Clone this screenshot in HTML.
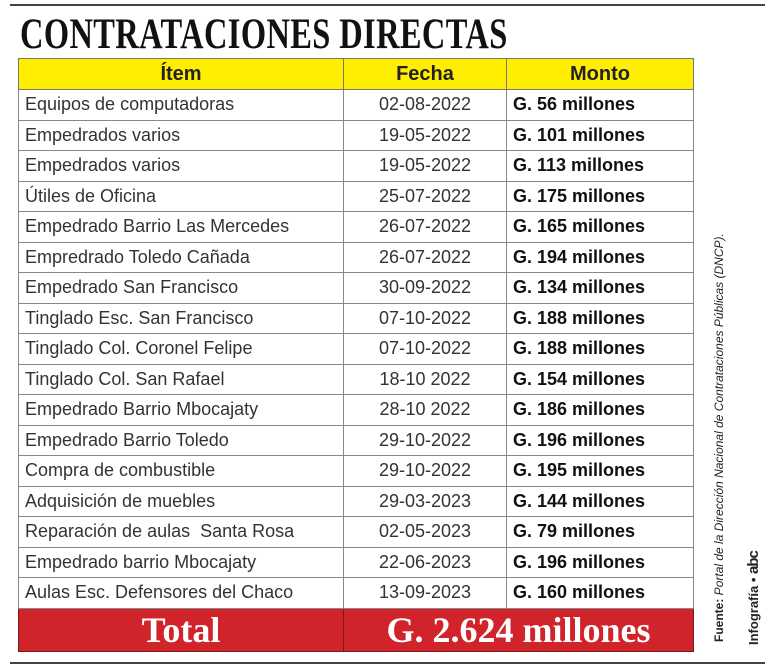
<!DOCTYPE html>
<html><head><meta charset="utf-8"><style>
body{margin:0;width:770px;height:672px;background:#fff;position:relative;overflow:hidden;font-family:"Liberation Sans",sans-serif}
.line{position:absolute;left:10px;width:755px;height:2px;background:#444}
.title{position:absolute;left:20px;top:10px;font-family:"Liberation Serif",serif;font-weight:bold;font-size:43px;color:#111;transform:scaleX(0.755);transform-origin:left top;white-space:nowrap;letter-spacing:0.5px}
table{position:absolute;left:18px;top:58px;border-collapse:collapse;table-layout:fixed}
td{border:1.5px solid #888;height:29.5px;padding:0;font-size:18px;color:#333;white-space:nowrap;overflow:hidden}
tr.h td{background:#ffee00;color:#222;font-weight:bold;text-align:center;height:30px;font-size:20px;border-color:#777}
td.a{padding-left:6px}
td.b{text-align:center}
td.c{padding-left:6px;font-weight:bold;color:#111}
tr.t td{background:#d1232a;color:#fff;font-family:"Liberation Serif",serif;font-weight:bold;font-size:36px;text-align:center;height:40px;border-color:#7a1a1a}
.src{position:absolute;left:712px;top:642px;transform:rotate(-90deg);transform-origin:left top;font-size:12px;color:#222;white-space:nowrap}
.inf{position:absolute;left:745px;top:645px;transform:rotate(-90deg);transform-origin:left top;font-size:13px;font-weight:bold;color:#222;white-space:nowrap}
</style></head><body>
<div class="line" style="top:4px"></div>
<div class="title">CONTRATACIONES DIRECTAS</div>
<table>
<colgroup><col style="width:325px"><col style="width:163px"><col style="width:187px"></colgroup>
<tr class="h"><td>Ítem</td><td>Fecha</td><td>Monto</td></tr>
<tr><td class="a">Equipos de computadoras</td><td class="b">02-08-2022</td><td class="c">G. 56 millones</td></tr>
<tr><td class="a">Empedrados varios</td><td class="b">19-05-2022</td><td class="c">G. 101 millones</td></tr>
<tr><td class="a">Empedrados varios</td><td class="b">19-05-2022</td><td class="c">G. 113 millones</td></tr>
<tr><td class="a">Útiles de Oficina</td><td class="b">25-07-2022</td><td class="c">G. 175 millones</td></tr>
<tr><td class="a">Empedrado Barrio Las Mercedes</td><td class="b">26-07-2022</td><td class="c">G. 165 millones</td></tr>
<tr><td class="a">Empredrado Toledo Cañada</td><td class="b">26-07-2022</td><td class="c">G. 194 millones</td></tr>
<tr><td class="a">Empedrado San Francisco</td><td class="b">30-09-2022</td><td class="c">G. 134 millones</td></tr>
<tr><td class="a">Tinglado Esc. San Francisco</td><td class="b">07-10-2022</td><td class="c">G. 188 millones</td></tr>
<tr><td class="a">Tinglado Col. Coronel Felipe</td><td class="b">07-10-2022</td><td class="c">G. 188 millones</td></tr>
<tr><td class="a">Tinglado Col. San Rafael</td><td class="b">18-10 2022</td><td class="c">G. 154 millones</td></tr>
<tr><td class="a">Empedrado Barrio Mbocajaty</td><td class="b">28-10 2022</td><td class="c">G. 186 millones</td></tr>
<tr><td class="a">Empedrado Barrio Toledo</td><td class="b">29-10-2022</td><td class="c">G. 196 millones</td></tr>
<tr><td class="a">Compra de combustible</td><td class="b">29-10-2022</td><td class="c">G. 195 millones</td></tr>
<tr><td class="a">Adquisición de muebles</td><td class="b">29-03-2023</td><td class="c">G. 144 millones</td></tr>
<tr><td class="a">Reparación de aulas&nbsp; Santa Rosa</td><td class="b">02-05-2023</td><td class="c">G. 79 millones</td></tr>
<tr><td class="a">Empedrado barrio Mbocajaty</td><td class="b">22-06-2023</td><td class="c">G. 196 millones</td></tr>
<tr><td class="a">Aulas Esc. Defensores del Chaco</td><td class="b">13-09-2023</td><td class="c">G. 160 millones</td></tr>
<tr class="t"><td>Total</td><td colspan="2">G. 2.624 millones</td></tr>
</table>
<div class="src"><b>Fuente:</b> <i>Portal de la Dirección Nacional de Contrataciones Públicas (DNCP).</i></div>
<div class="inf">Infografía • <span style="font-family:'Liberation Sans';font-weight:900;font-size:15px;letter-spacing:-1px">abc</span></div>
<div class="line" style="top:662px"></div>
</body></html>
